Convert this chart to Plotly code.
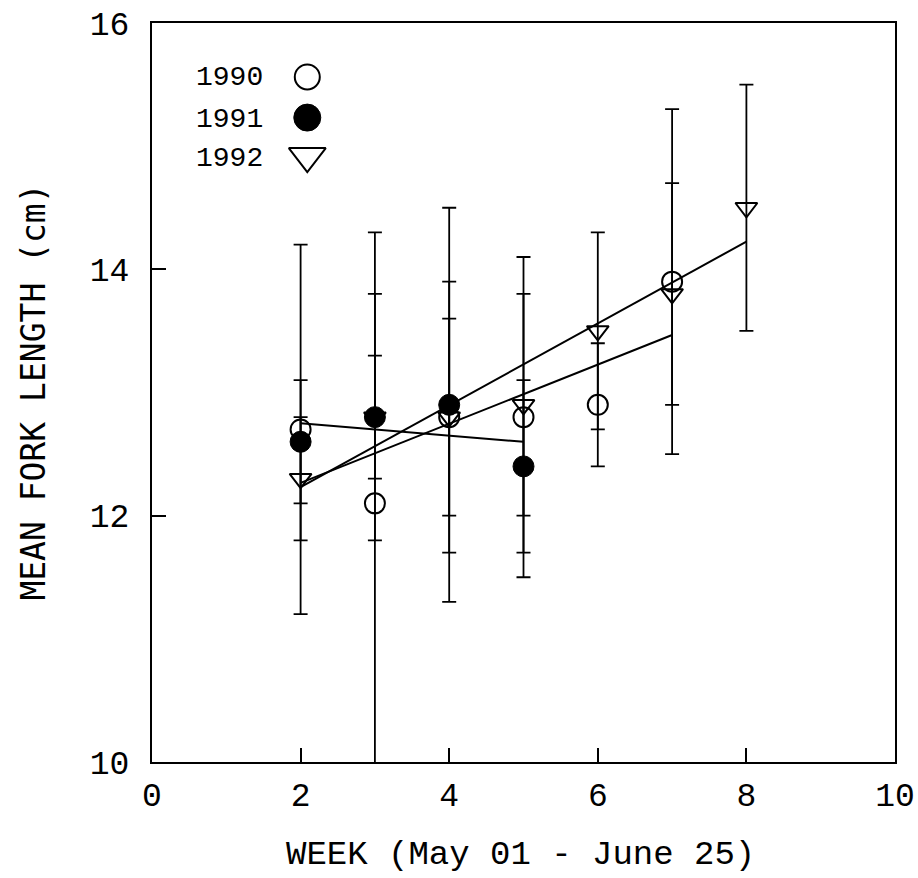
import numpy as np
import plotly.graph_objects as go

# Weekly mean fork length (cm) and standard deviation by year
weeks_1990 = [2, 3, 4, 5, 6, 7]
mean_1990 = [12.7, 12.1, 12.8, 12.8, 12.9, 13.9]
sd_1990 = [1.5, 2.2, 1.1, 1.3, 0.5, 1.4]

weeks_1991 = [2, 3, 4, 5]
mean_1991 = [12.6, 12.8, 12.9, 12.4]
sd_1991 = [0.5, 0.5, 1.6, 0.7]

weeks_1992 = [2, 3, 4, 5, 6, 7, 8]
mean_1992 = [12.3, 12.8, 12.8, 12.9, 13.5, 13.8, 14.5]
sd_1992 = [0.5, 1.0, 0.8, 0.9, 0.8, 0.9, 1.0]

years = ["1990", "1991", "1992"]
x_ticks = [0, 2, 4, 6, 8, 10]
y_ticks = [10, 12, 14, 16]

MONO = "Liberation Mono, Courier New, monospace"
SANS_MONO = "DejaVu Sans Mono, monospace"

series = [
    (weeks_1990, mean_1990, sd_1990, dict(symbol="circle-open", size=20,
                                         color="black", line=dict(width=2, color="black"))),
    (weeks_1991, mean_1991, sd_1991, dict(symbol="circle", size=21,
                                         color="black", line=dict(width=1, color="black"))),
    (weeks_1992, mean_1992, sd_1992, dict(symbol="triangle-down-open", size=19,
                                         color="black", line=dict(width=2, color="black"))),
]

fig = go.Figure()

# Least-squares trend line for each year, spanning its sampled weeks
for wk, mu, _, _ in series:
    slope, icpt = np.polyfit(wk, mu, 1)
    xs = np.array([min(wk), max(wk)], dtype=float)
    fig.add_trace(go.Scatter(x=xs, y=icpt + slope * xs, mode="lines",
                             line=dict(color="black", width=2),
                             hoverinfo="skip", showlegend=False))

# Means with +/- 1 SD bars
draw_order = [1, 0, 2]
for i in draw_order:
    wk, mu, sd, mk = series[i]
    fig.add_trace(go.Scatter(
        x=wk, y=mu, mode="markers", name=years[i], marker=mk,
        error_y=dict(type="data", array=sd, visible=True, color="black",
                     thickness=1.8, width=7),
        showlegend=False))

# Key drawn on an overlay axis spanning the plot area
key_x = [0.209, 0.209, 0.209]
key_y = [0.927, 0.872, 0.820]
key_markers = [
    dict(symbol="circle-open", size=25, color="black", line=dict(width=2, color="black")),
    dict(symbol="circle", size=27, color="black", line=dict(width=1, color="black")),
    dict(symbol="triangle-down-open", size=32, color="black", line=dict(width=2, color="black")),
]
for j in range(3):
    fig.add_trace(go.Scatter(x=[key_x[j]], y=[key_y[j]], mode="markers",
                             marker=key_markers[j], xaxis="x2", yaxis="y2",
                             hoverinfo="skip", showlegend=False))
    fig.add_annotation(x=0.152, y=[0.926, 0.870, 0.817][j], xref="x2", yref="y2",
                       text=years[j], showarrow=False, xanchor="right", yanchor="middle",
                       font=dict(family=MONO, size=28, color="black"))

axis_common = dict(showline=True, linecolor="black", linewidth=2, mirror=True,
                   ticks="inside", ticklen=14, tickwidth=2, tickcolor="black",
                   showgrid=False, zeroline=False, automargin=False,
                   tickfont=dict(family=MONO, size=33, color="black"))

fig.update_layout(
    width=918, height=878,
    margin=dict(l=152, r=23, t=23, b=116, autoexpand=False),
    paper_bgcolor="white", plot_bgcolor="white",
    xaxis=dict(range=[0, 10], tickvals=x_ticks, ticklabelstandoff=2, **axis_common),
    yaxis=dict(range=[10, 16], tickvals=y_ticks, ticklabelstandoff=14, **axis_common),
    xaxis2=dict(range=[0, 1], overlaying="x", visible=False),
    yaxis2=dict(range=[0, 1], overlaying="y", visible=False),
    annotations=list(fig.layout.annotations) + [
        dict(text="WEEK (May 01 - June 25)", x=0.4966, y=-0.1258, xref="paper", yref="paper",
             showarrow=False, xanchor="center", yanchor="middle",
             font=dict(family=MONO, size=34, color="black")),
        dict(text="MEAN FORK LENGTH (cm)", x=-0.160, y=0.5, xref="paper", yref="paper",
             showarrow=False, xanchor="center", yanchor="middle", textangle=-90,
             font=dict(family=SANS_MONO, size=33, color="black")),
    ],
)

fig.write_html("out.html")
